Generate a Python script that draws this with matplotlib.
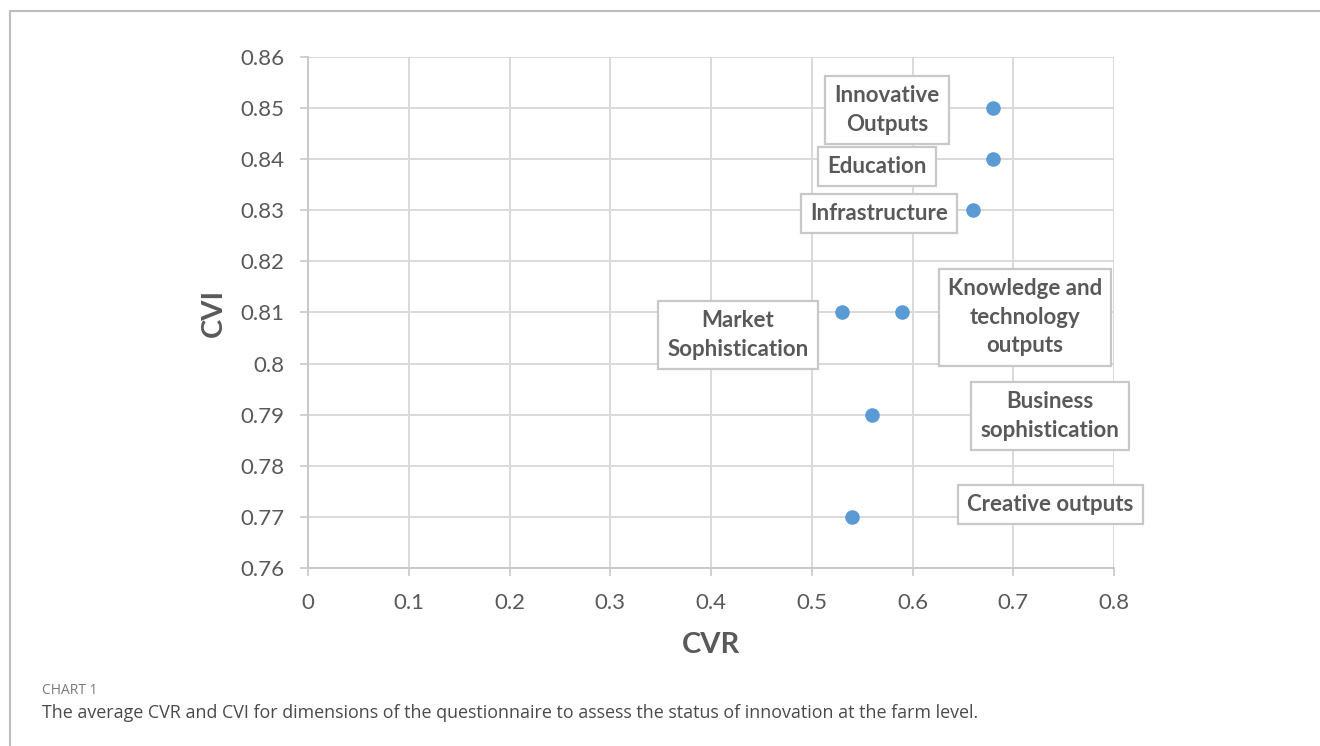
import matplotlib

matplotlib.use("Agg")
import matplotlib.pyplot as plt
from matplotlib.lines import Line2D

# CVR / CVI per questionnaire dimension
dimensions = [
    "Innovative\nOutputs",
    "Education",
    "Infrastructure",
    "Market\nSophistication",
    "Knowledge and\ntechnology\noutputs",
    "Business\nsophistication",
    "Creative outputs",
]
cvr = [0.68, 0.68, 0.66, 0.53, 0.59, 0.56, 0.54]
cvi = [0.85, 0.84, 0.83, 0.81, 0.81, 0.79, 0.77]

# where each label box sits (data coordinates)
label_x = [0.5747, 0.5648, 0.5667, 0.4268, 0.7117, 0.7365, 0.7365]
label_y = [0.8496, 0.8386, 0.8294, 0.8056, 0.8091, 0.7897, 0.7724]

x_ticks = [0, 0.1, 0.2, 0.3, 0.4, 0.5, 0.6, 0.7, 0.8]
y_ticks = [0.76, 0.77, 0.78, 0.79, 0.8, 0.81, 0.82, 0.83, 0.84, 0.85, 0.86]

TEXT = "#595959"
GRID = "#d9d9d9"
FONT = "Lato"

fig = plt.figure(figsize=(13.2, 7.46), dpi=100)
ax = fig.add_axes([308 / 1320, 1 - 568 / 746, 806 / 1320, 511 / 746])

ax.scatter(cvr, cvi, s=110, color="#5b9bd5", zorder=3, linewidths=0)

for name, lx, ly in zip(dimensions, label_x, label_y):
    ax.text(
        lx, ly, name, ha="center", va="center", fontsize=16, fontweight="bold",
        color=TEXT, family=FONT, linespacing=1.45, zorder=4,
        bbox=dict(boxstyle="square,pad=0.42", facecolor="white", edgecolor="#c8c8c8", linewidth=1.6),
    )

ax.set_xlim(0, 0.8)
ax.set_ylim(0.76, 0.86)
ax.set_xticks(x_ticks)
ax.set_xticklabels([f"{v:g}" for v in x_ticks])
ax.set_yticks(y_ticks)
ax.set_yticklabels([f"{v:g}" for v in y_ticks])
ax.grid(True, color=GRID, linewidth=1.4)
ax.set_axisbelow(True)
for side in ("top", "right"):
    ax.spines[side].set_visible(False)
for side in ("left", "bottom"):
    ax.spines[side].set_color("#c8c8c8")
    ax.spines[side].set_linewidth(1.4)
ax.tick_params(length=6, width=1.2, color="#c8c8c8", labelsize=16, labelcolor=TEXT)
ax.tick_params(axis="x", pad=12)
ax.tick_params(axis="y", pad=11)
for lbl in ax.get_xticklabels() + ax.get_yticklabels():
    lbl.set_family(FONT)

ax.set_xlabel("CVR", fontsize=21, fontweight="bold", color=TEXT, family=FONT, labelpad=14)
ax.set_ylabel("CVI", fontsize=21, fontweight="bold", color=TEXT, family=FONT, labelpad=10)

# page frame around the chart
frame = dict(color="#bdbdbd", linewidth=1.5, transform=fig.transFigure)
fig.add_artist(Line2D([10 / 1320, 1], [1 - 11 / 746, 1 - 11 / 746], **frame))
fig.add_artist(Line2D([10 / 1320, 10 / 1320], [0, 1 - 11 / 746], **frame))

fig.text(42 / 1320, 1 - 690 / 746, "CHART 1", fontsize=10, color="#7a7a7a", family="Open Sans", va="center")
fig.text(
    42 / 1320, 1 - 713 / 746,
    "The average CVR and CVI for dimensions of the questionnaire to assess the status of innovation at the farm level.",
    fontsize=12.9, color="#4a4a4a", family="Open Sans", va="center",
)

fig.savefig("out.png", dpi=100)
